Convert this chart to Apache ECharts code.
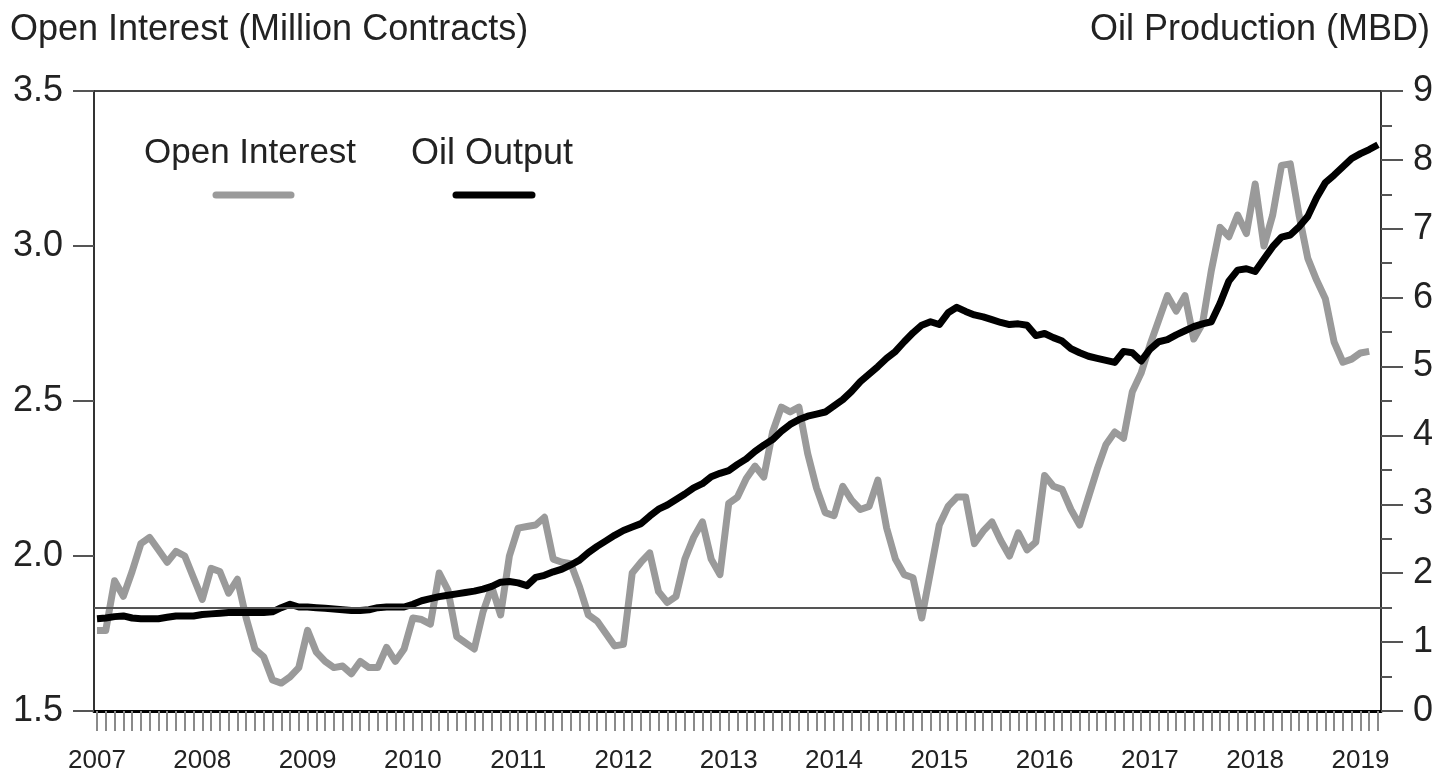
<!DOCTYPE html>
<html>
<head>
<meta charset="utf-8">
<title>Open Interest vs Oil Production</title>
<script src="https://cdn.jsdelivr.net/npm/echarts@6/dist/echarts.min.js"></script>
<style>
  html, body { margin: 0; padding: 0; background: #fff; }
  #chart { width: 1438px; height: 774px; }
</style>
</head>
<body>
<div id="chart"></div>
<script>
// year labels, one per January (index 0, 12, 24 ...)
const years = ['2007', '2008', '2009', '2010', '2011', '2012', '2013',
  '2014', '2015', '2016', '2017', '2018', '2019']

// open interest, million contracts, monthly from Jan 2007 (left axis)
const openInterest = [
  1.76, 1.76, 1.92, 1.87, 1.95, 2.04, 2.06, 2.02, 1.98, 2.015, 2.0, 1.93,
  1.86, 1.96, 1.95, 1.88, 1.925, 1.80, 1.70, 1.675, 1.60, 1.59, 1.61, 1.64,
  1.76, 1.69, 1.66, 1.64, 1.645, 1.62, 1.66, 1.64, 1.64, 1.705, 1.66, 1.70,
  1.80, 1.795, 1.78, 1.945, 1.89, 1.74, 1.72, 1.70, 1.82, 1.90, 1.81, 2.00,
  2.09, 2.095, 2.10, 2.125, 1.99, 1.98, 1.975, 1.90, 1.81, 1.79, 1.75, 1.71,
  1.715, 1.945, 1.98, 2.01, 1.885, 1.85, 1.87, 1.99, 2.06, 2.11, 1.99, 1.94,
  2.17, 2.19, 2.25, 2.29, 2.255, 2.40, 2.48, 2.465, 2.48, 2.33, 2.22, 2.14,
  2.13, 2.225, 2.18, 2.15, 2.16, 2.245, 2.09, 1.99, 1.94, 1.93, 1.80, 1.95,
  2.10, 2.16, 2.19, 2.19, 2.04, 2.08, 2.11, 2.05, 2.00, 2.075, 2.02, 2.045,
  2.26, 2.225, 2.215, 2.15, 2.10, 2.19, 2.28, 2.36, 2.40, 2.38, 2.53, 2.59,
  2.68, 2.76, 2.84, 2.79, 2.84, 2.70, 2.75, 2.92, 3.06, 3.03, 3.10, 3.04,
  3.20, 3.00, 3.10, 3.26, 3.265, 3.10, 2.96, 2.89, 2.83, 2.69, 2.625, 2.635,
  2.655, 2.66
]

// oil output, million barrels per day, monthly from Jan 2007 (right axis)
const oilOutput = [
  1.34, 1.35, 1.37, 1.38, 1.35, 1.34, 1.34, 1.34, 1.36, 1.38, 1.38, 1.38,
  1.40, 1.41, 1.42, 1.43, 1.43, 1.43, 1.43, 1.43, 1.44, 1.50, 1.55, 1.51,
  1.51, 1.50, 1.49, 1.48, 1.47, 1.46, 1.46, 1.47, 1.50, 1.51, 1.51, 1.51,
  1.55, 1.60, 1.63, 1.66, 1.68, 1.70, 1.72, 1.74, 1.77, 1.81, 1.87, 1.88,
  1.86, 1.82, 1.94, 1.97, 2.02, 2.06, 2.12, 2.19, 2.30, 2.39, 2.47, 2.55,
  2.62, 2.67, 2.72, 2.83, 2.93, 2.99, 3.07, 3.15, 3.24, 3.30, 3.40, 3.45,
  3.49, 3.58, 3.66, 3.77, 3.86, 3.94, 4.06, 4.16, 4.23, 4.28, 4.31, 4.34,
  4.43, 4.52, 4.64, 4.78, 4.89, 5.00, 5.12, 5.22, 5.36, 5.49, 5.60, 5.65,
  5.61, 5.78, 5.86, 5.80, 5.75, 5.72, 5.68, 5.64, 5.61, 5.62, 5.60, 5.45,
  5.48, 5.42, 5.37, 5.26, 5.20, 5.15, 5.12, 5.09, 5.06, 5.22, 5.20, 5.08,
  5.25, 5.36, 5.39, 5.46, 5.52, 5.58, 5.62, 5.65, 5.92, 6.24, 6.40, 6.42,
  6.38, 6.56, 6.74, 6.88, 6.91, 7.03, 7.18, 7.45, 7.67, 7.78, 7.90, 8.02,
  8.09, 8.15, 8.22
]

// reference level drawn across the plot (right axis)
const baseLevel = 1.5

const monthCount = oilOutput.length
const monthTicks = Array.from({ length: monthCount }, (_, i) => i)
const yearTicks = years.map((_, i) => i * 12)

const font = 'Liberation Sans, Arial, sans-serif'
const textColor = '#222'

const chart = echarts.init(document.getElementById('chart'))

chart.setOption({
  animation: false,
  backgroundColor: '#fff',
  textStyle: { fontFamily: font },
  grid: {
    left: 94,
    right: 57,
    top: 91,
    bottom: 62,
    show: true,
    borderColor: '#444',
    borderWidth: 2
  },
  xAxis: {
    type: 'value',
    min: -0.342,
    max: monthCount - 1 + 0.342,
    axisLine: { show: true, onZero: false, lineStyle: { color: '#000', width: 3 } },
    axisTick: {
      show: true,
      customValues: monthTicks,
      length: 20,
      lineStyle: { color: '#8a8a8a', width: 2 }
    },
    axisLabel: {
      customValues: yearTicks,
      formatter: v => years[Math.round(v / 12)],
      margin: 37,
      fontSize: 26,
      color: textColor,
      fontFamily: font
    },
    splitLine: { show: false }
  },
  yAxis: [
    {
      type: 'value',
      min: 1.5,
      max: 3.5,
      interval: 0.5,
      position: 'left',
      axisLine: { show: true, onZero: false, lineStyle: { color: '#333', width: 2 } },
      axisTick: { show: true, length: 21, lineStyle: { color: '#555', width: 2 } },
      axisLabel: {
        formatter: v => v.toFixed(1),
        margin: 31,
        fontSize: 36,
        color: textColor,
        fontFamily: font
      },
      splitLine: { show: false }
    },
    {
      type: 'value',
      min: 0,
      max: 9,
      interval: 1,
      position: 'right',
      axisLine: { show: true, onZero: false, lineStyle: { color: '#333', width: 2 } },
      axisTick: { show: true, length: 22, lineStyle: { color: '#555', width: 2 } },
      minorTick: { show: true, splitNumber: 2, length: 11, lineStyle: { color: '#555', width: 2 } },
      axisLabel: {
        margin: 32,
        fontSize: 36,
        color: textColor,
        fontFamily: font
      },
      splitLine: { show: false }
    }
  ],
  graphic: [
    {
      type: 'text',
      left: 10,
      top: 12,
      style: { text: 'Open Interest (Million Contracts)', fontSize: 36, fontFamily: font, fill: textColor }
    },
    {
      type: 'text',
      right: 8,
      top: 12,
      style: { text: 'Oil Production (MBD)', fontSize: 36, fontFamily: font, fill: textColor }
    },
    {
      type: 'text',
      left: 144,
      top: 136,
      style: { text: 'Open Interest', fontSize: 35, fontFamily: font, fill: textColor }
    },
    {
      type: 'text',
      left: 411,
      top: 136,
      style: { text: 'Oil Output', fontSize: 36, fontFamily: font, fill: textColor }
    },
    {
      type: 'line',
      shape: { x1: 216, y1: 195, x2: 291, y2: 195 },
      style: { stroke: '#9a9a9a', lineWidth: 7, lineCap: 'round' }
    },
    {
      type: 'line',
      shape: { x1: 456, y1: 195, x2: 532, y2: 195 },
      style: { stroke: '#000', lineWidth: 7, lineCap: 'round' }
    }
  ],
  series: [
    {
      name: 'Base',
      type: 'line',
      yAxisIndex: 1,
      data: [],
      silent: true,
      markLine: {
        silent: true,
        symbol: 'none',
        label: { show: false },
        lineStyle: { color: '#555', width: 2, type: 'solid' },
        data: [{ yAxis: baseLevel }]
      }
    },
    {
      name: 'Open Interest',
      type: 'line',
      yAxisIndex: 0,
      showSymbol: false,
      lineStyle: { color: '#9a9a9a', width: 7, join: 'round' },
      data: openInterest.map((v, i) => [i, v])
    },
    {
      name: 'Oil Output',
      type: 'line',
      yAxisIndex: 1,
      showSymbol: false,
      lineStyle: { color: '#000', width: 7, join: 'round' },
      data: oilOutput.map((v, i) => [i, v])
    }
  ]
})
</script>
</body>
</html>
